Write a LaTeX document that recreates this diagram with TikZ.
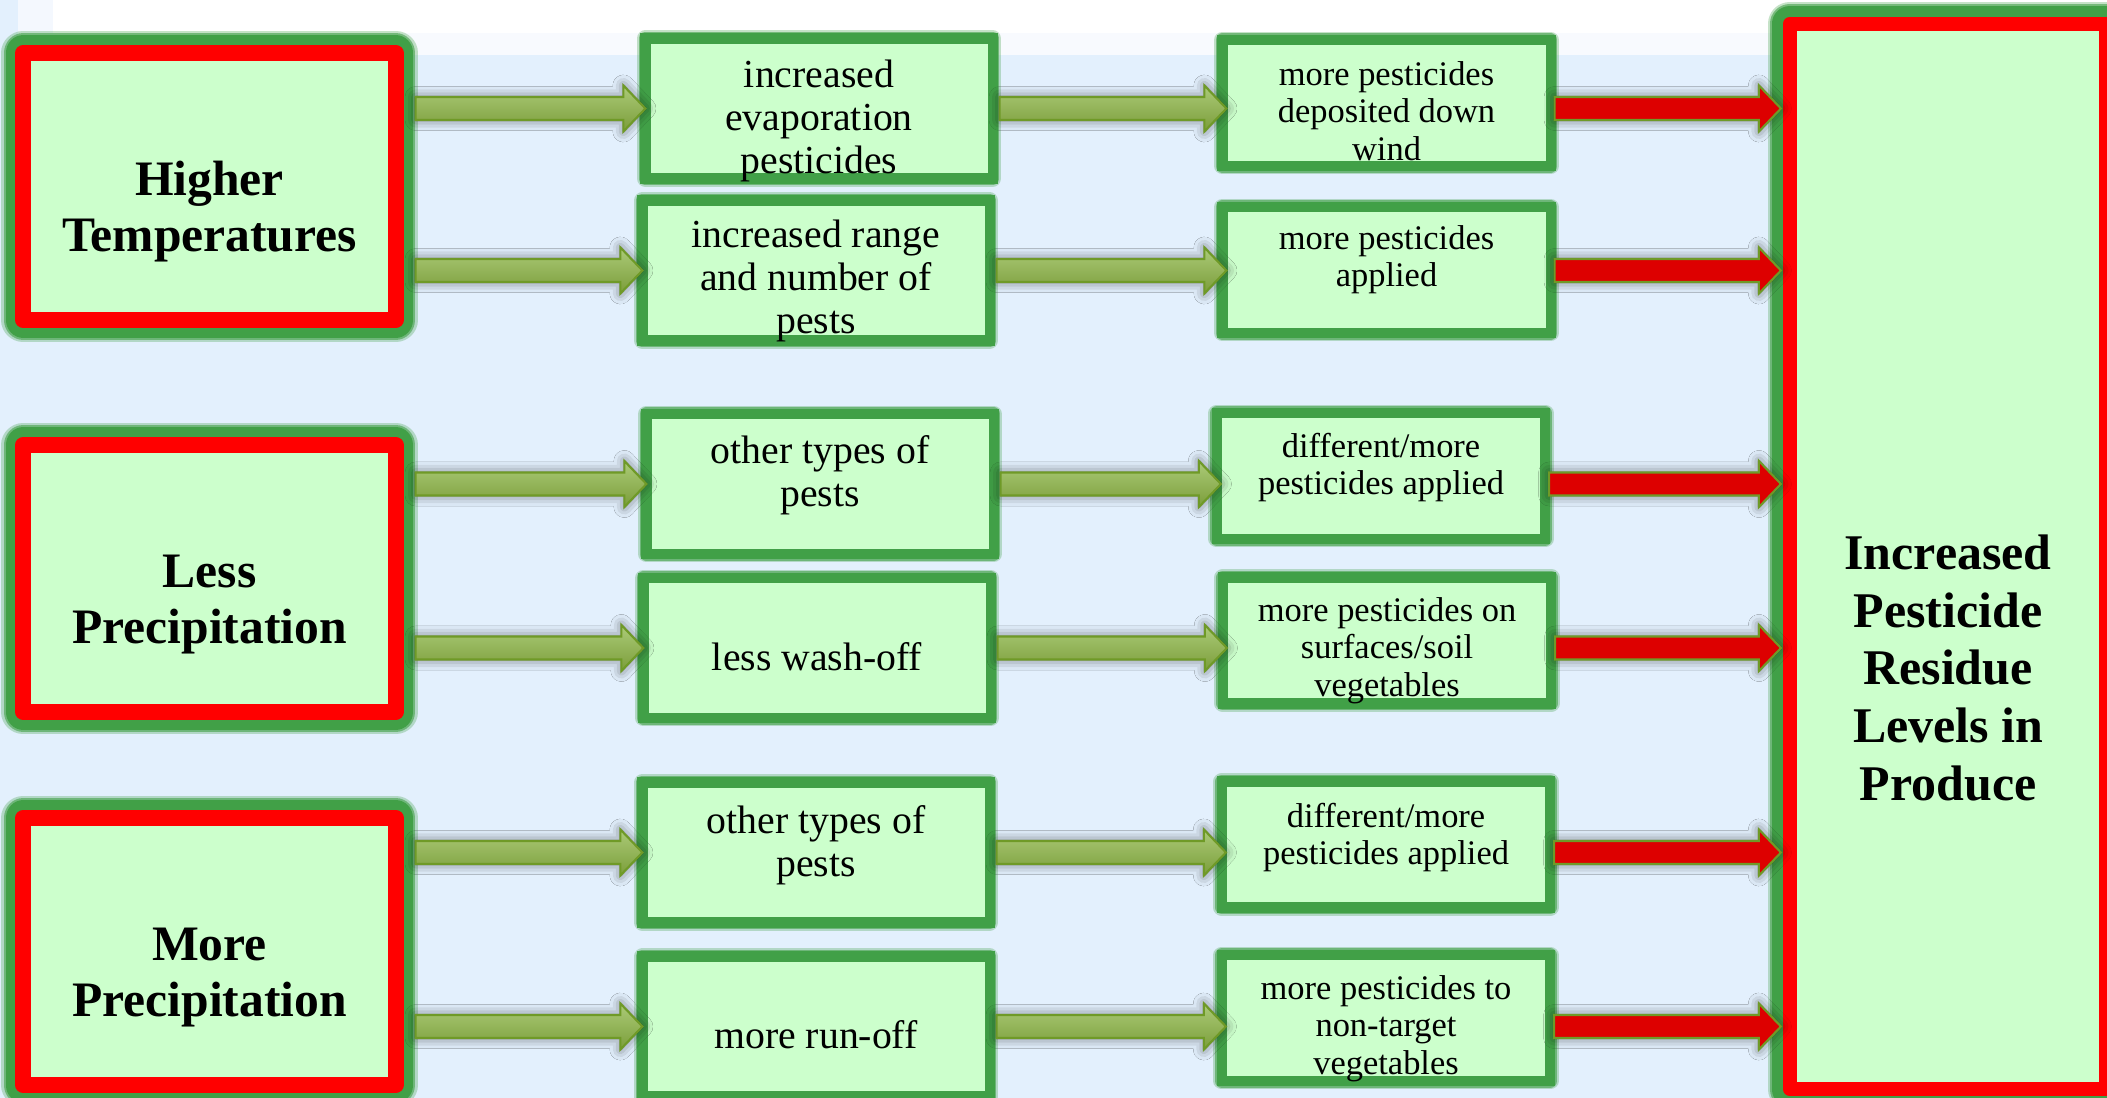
\documentclass[tikz,border=0pt]{standalone}
\usepackage{fontspec}
\setmainfont{Liberation Serif}
\usepackage{xcolor}
\usepackage{tikz}
\usetikzlibrary{positioning, calc, shadows.blur}
\definecolor{C1}{HTML}{41A047}
\definecolor{C2}{HTML}{FF0000}
\definecolor{C3}{HTML}{CCFFCC}
\definecolor{C4}{HTML}{DD0000}
\definecolor{A1}{HTML}{ABCB78}
\definecolor{A2}{HTML}{7B9D3A}
\definecolor{A3}{HTML}{6F9A27}
\definecolor{B1}{HTML}{E3F0FD}
\definecolor{B2}{HTML}{F4F8FE}
\definecolor{B3}{HTML}{F8FAFE}
\newcommand{\boxtext}[2][0pt]{\raisebox{-#1}[0pt][0pt]{\begin{tabular}{@{}c@{}}#2\end{tabular}}}
\newcommand{\fatarrow}[3]{%
  \path[#1] let \p1 = #2, \p2 = #3 in
    (\x1, \y1+0.115cm) -- (\x2-0.22cm, \y1+0.115cm) -- (\x2-0.22cm, \y1+0.23cm)
    -- (\x2, \y1) -- (\x2-0.22cm, \y1-0.23cm) -- (\x2-0.22cm, \y1-0.115cm)
    -- (\x1, \y1-0.115cm) -- cycle;}

\begin{document}
\begin{tikzpicture}[
	x = 0.01cm, y = -0.01cm,
	redbox/.style = {draw=C2, fill=C3, line join=round, inner sep=0pt, outer sep=0pt,
	  preaction={draw=C1, line width=12.5pt, line join=round, opacity=.3},
	  preaction={draw=C1, line width=11.2pt, line join=round, opacity=.6},
	  preaction={draw=C1, line width=10pt, line join=round}},
	causebox/.style = {redbox, line width=4.5pt, minimum width=3.72cm, minimum height=2.67cm,
	  font=\fontsize{14.1}{16}\selectfont\bfseries},
	resultbox/.style = {redbox, line width=4pt, minimum width=3.16cm, minimum height=10.65cm,
	  font=\fontsize{14.2}{16.4}\selectfont\bfseries},
	greenbox/.style = {draw=C1, fill=C3, line width=2.9pt, inner sep=0pt, outer sep=0pt,
	  preaction={draw=C1, line width=4.8pt, line join=round, opacity=.3},
	  preaction={draw=C1, line width=3.8pt, line join=round, opacity=.6}},
	midbox/.style = {greenbox, minimum width=3.47cm, minimum height=1.40cm,
	  font=\fontsize{11.3}{12.3}\selectfont},
	effbox/.style = {greenbox, minimum width=3.28cm, minimum height=1.26cm,
	  font=\fontsize{9.8}{10.7}\selectfont},
	arrowshadow/.style = {blur shadow={shadow xshift=0pt, shadow yshift=0pt,
	  shadow blur radius=3pt, shadow opacity=55}},
	greenarrow/.style = {shade, top color=A1, bottom color=A2, draw=A3, line width=0.6pt, arrowshadow},
	redarrow/.style = {fill=C4, draw=A3, line width=0.6pt, arrowshadow}
]
  \useasboundingbox (0,0) rectangle (2107,1098);
  % Background
  \fill[white] (0,0) rectangle (2107,1098);
  \fill[B1] (0,0) rectangle (18,1098);
  \fill[B2] (18,0) rectangle (53,55);
  \fill[B3] (53,33) rectangle (2107,55);
  \fill[B1] (18,55) rectangle (2107,1098);

  % Causes
  \node[causebox] at (209.5,186.5) (ht) {\boxtext[11pt]{Higher\\Temperatures}};
  \node[causebox] at (209.5,578.5) (lp) {\boxtext[11pt]{Less\\Precipitation}};
  \node[causebox] at (209.5,951.5) (mp) {\boxtext[11pt]{More\\Precipitation}};

  % First effects
  \node[midbox] at (819,108.5) (m1) {\boxtext[6.6pt]{increased\\evaporation\\pesticides}};
  \node[midbox] at (816,270.5) (m2) {\boxtext[5.9pt]{increased range\\and number of\\pests}};
  \node[midbox] at (820,484) (m3) {\boxtext[0.5pt]{other types of\\pests}};
  \node[midbox] at (817,648) (m4) {\boxtext[6.8pt]{less wash-off}};
  \node[midbox] at (816,852.5) (m5) {\boxtext[0.9pt]{other types of\\pests}};
  \node[midbox] at (816,1026.5) (m6) {\boxtext[6.4pt]{more run-off}};

  % Second effects
  \node[effbox] at (1386.5,103) (r1) {\boxtext[6pt]{more pesticides\\deposited down\\wind}};
  \node[effbox] at (1386.5,270) (r2) {\boxtext[-0.2pt]{more pesticides\\applied}};
  \node[effbox] at (1381,476) (r3) {\boxtext[0.4pt]{different/more\\pesticides applied}};
  \node[effbox] at (1387,640.5) (r4) {\boxtext[5.6pt]{more pesticides on\\surfaces/soil\\vegetables}};
  \node[effbox] at (1386,844.5) (r5) {\boxtext[0.8pt]{different/more\\pesticides applied}};
  \node[effbox] at (1386,1018) (r6) {\boxtext[5.7pt]{more pesticides to\\non-target\\vegetables}};

  % Result
  \node[resultbox] at (1948,556.5) (res) {\boxtext[36.8pt]{Increased\\Pesticide\\Residue\\Levels in\\Produce}};

  % Arrows
  \fatarrow{greenarrow}{($(ht.east |- m1)+(20,0)$)}{(m1.west)}
  \fatarrow{greenarrow}{($(ht.east |- m2)+(20,0)$)}{(m2.west)}
  \fatarrow{greenarrow}{($(lp.east |- m3)+(20,0)$)}{(m3.west)}
  \fatarrow{greenarrow}{($(lp.east |- m4)+(20,0)$)}{(m4.west)}
  \fatarrow{greenarrow}{($(mp.east |- m5)+(20,0)$)}{(m5.west)}
  \fatarrow{greenarrow}{($(mp.east |- m6)+(20,0)$)}{(m6.west)}

  \fatarrow{greenarrow}{($(m1.east)+(7,0)$)}{($(r1.west |- m1)+(4,0)$)}
  \fatarrow{greenarrow}{($(m2.east)+(7,0)$)}{($(r2.west |- m2)+(4,0)$)}
  \fatarrow{greenarrow}{($(m3.east)+(7,0)$)}{($(r3.west |- m3)+(4,0)$)}
  \fatarrow{greenarrow}{($(m4.east)+(7,0)$)}{($(r4.west |- m4)+(4,0)$)}
  \fatarrow{greenarrow}{($(m5.east)+(7,0)$)}{($(r5.west |- m5)+(4,0)$)}
  \fatarrow{greenarrow}{($(m6.east)+(7,0)$)}{($(r6.west |- m6)+(4,0)$)}

  \fatarrow{redarrow}{($(r1.east |- m1)+(4,0)$)}{($(res.west |- m1)+(-9,0)$)}
  \fatarrow{redarrow}{($(r2.east |- m2)+(4,0)$)}{($(res.west |- m2)+(-9,0)$)}
  \fatarrow{redarrow}{($(r3.east |- m3)+(4,0)$)}{($(res.west |- m3)+(-9,0)$)}
  \fatarrow{redarrow}{($(r4.east |- m4)+(4,0)$)}{($(res.west |- m4)+(-9,0)$)}
  \fatarrow{redarrow}{($(r5.east |- m5)+(4,0)$)}{($(res.west |- m5)+(-9,0)$)}
  \fatarrow{redarrow}{($(r6.east |- m6)+(4,0)$)}{($(res.west |- m6)+(-9,0)$)}
\end{tikzpicture}
\end{document}
